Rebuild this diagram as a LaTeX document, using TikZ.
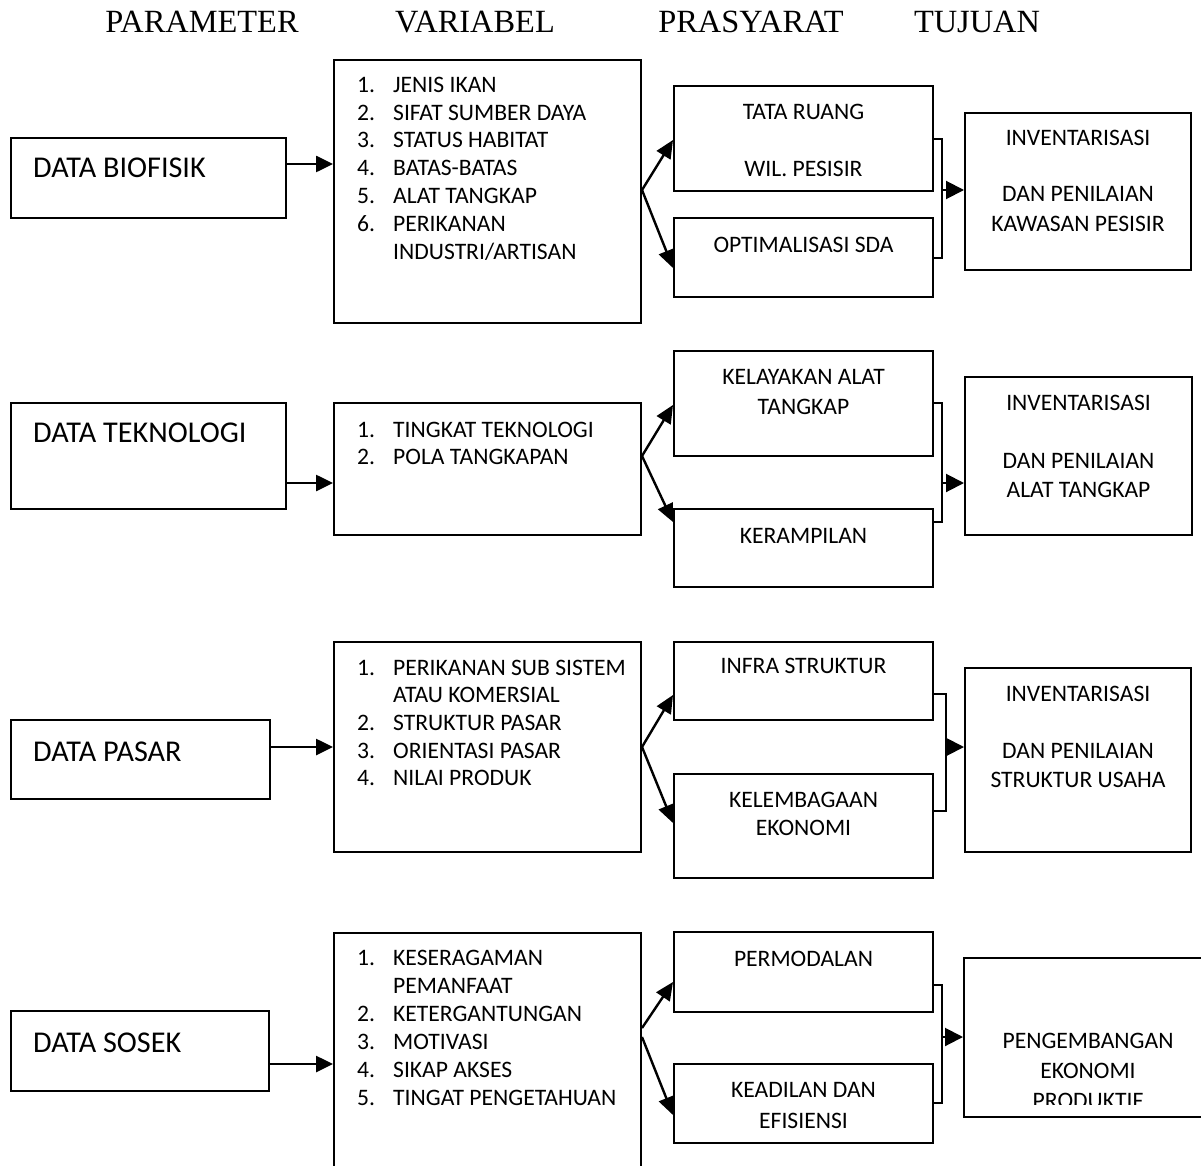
\documentclass[tikz,border=0pt]{standalone}
\usepackage{fontspec}
\setmainfont{Liberation Serif}
\newfontfamily\calfont{Carlito}
\usetikzlibrary{arrows.meta}
\newcommand\mkbox[5]{\node[bx,minimum width={#4-#2},minimum height={#5-#3}] (#1) at ({(#2+#4)/2},{(#3+#5)/2}) {};}
\newcommand\ct[4]{\node[tx,anchor=base] (#1) at (#2,#3) {#4};}
\newcommand\li[4]{\node[tx,anchor=base west] (#1) at (357,#2) {\makebox[36pt][l]{#3}#4};}
\begin{document}
\begin{tikzpicture}[x=1pt,y=-1pt,
  bx/.style={draw,line width=2pt,inner sep=0pt,rectangle},
  tx/.style={inner sep=0pt,font=\calfont\fontsize{23.6}{27}\selectfont},
  big/.style={inner sep=0pt,anchor=base west,font=\calfont\fontsize{30.2}{32}\selectfont},
  hd/.style={inner sep=0pt,anchor=base,font=\fontsize{32.4}{36}\selectfont},
  arr/.style={line width=2.6pt,-{Triangle[length=17pt,width=16pt]}},
  darr/.style={line width=2.4pt,-{Triangle[length=18pt,width=16pt]}},
  arrb/.style={line width=2pt,-{Triangle[length=18pt,width=18pt]}},
  brk/.style={line width=2pt,line join=miter}]
\clip (0,0) rectangle (1201,1166);
\fill[white] (0,0) rectangle (1201,1166);
% headers
\node[hd] (h1) at (202,33) {PARAMETER};
\node[hd] (h2) at (475,33) {VARIABEL};
\node[hd] (h3) at (751,33) {PRASYARAT};
\node[hd] (h4) at (977,33) {TUJUAN};
% ---------- row 1
\mkbox{dbio}{11}{138}{286}{218}
\node[big] (dbioT) at (33,178) {DATA BIOFISIK};
\mkbox{vbio}{334}{60}{641}{323}
\li{v1a}{93}{1.}{JENIS IKAN}
\li{v1b}{121}{2.}{SIFAT SUMBER DAYA}
\li{v1c}{148}{3.}{STATUS HABITAT}
\li{v1d}{176}{4.}{BATAS-BATAS}
\li{v1e}{204}{5.}{ALAT TANGKAP}
\li{v1f}{232}{6.}{PERIKANAN}
\li{v1g}{259}{}{INDUSTRI/ARTISAN}
\mkbox{pbioa}{674}{86}{933}{191}
\ct{p1a1}{803.5}{120}{TATA RUANG}
\ct{p1a2}{803.5}{177}{WIL. PESISIR}
\mkbox{pbiob}{674}{218}{933}{297}
\ct{p1b1}{803.5}{252}{OPTIMALISASI SDA}
\mkbox{tbio}{965}{113}{1191}{270}
\ct{t1a}{1078}{146}{INVENTARISASI}
\ct{t1b}{1078}{202}{DAN PENILAIAN}
\ct{t1c}{1078}{232}{KAWASAN PESISIR}
\coordinate (a1) at (0,164);
\coordinate (o1) at (641,190);
\coordinate (u1) at (0,140);
\coordinate (d1) at (0,268);
\coordinate (k1a) at (942,139);
\coordinate (k1b) at (942,258);
\coordinate (k1m) at (942,190);
\draw[arr] (dbio.east |- a1) -- (vbio.west |- a1);
\draw[darr] (vbio.east |- o1) -- (pbioa.west |- u1);
\draw[darr] (vbio.east |- o1) -- (pbiob.west |- d1);
\draw[brk] (pbioa.east |- k1a) -- (k1a) -- (k1b) -- (pbiob.east |- k1b);
\draw[arrb] (k1m) -- (tbio.west |- k1m);
% ---------- row 2
\mkbox{dtek}{11}{403}{286}{509}
\node[big] (dtekT) at (33,442) {DATA TEKNOLOGI};
\mkbox{vtek}{334}{403}{641}{535}
\li{v2a}{437}{1.}{TINGKAT TEKNOLOGI}
\li{v2b}{464}{2.}{POLA TANGKAPAN}
\mkbox{pteka}{674}{351}{933}{456}
\ct{p2a1}{803.5}{384}{KELAYAKAN ALAT}
\ct{p2a2}{803.5}{414}{TANGKAP}
\mkbox{ptekb}{674}{509}{933}{587}
\ct{p2b1}{803.5}{543}{KERAMPILAN}
\mkbox{ttek}{965}{377}{1192}{535}
\ct{t2a}{1078.5}{410}{INVENTARISASI}
\ct{t2b}{1078.5}{468}{DAN PENILAIAN}
\ct{t2c}{1078.5}{497}{ALAT TANGKAP}
\coordinate (a2) at (0,483);
\coordinate (o2) at (641,456);
\coordinate (u2) at (0,405);
\coordinate (d2) at (0,522);
\coordinate (k2a) at (942,403);
\coordinate (k2b) at (942,522);
\coordinate (k2m) at (942,483);
\draw[arr] (dtek.east |- a2) -- (vtek.west |- a2);
\draw[darr] (vtek.east |- o2) -- (pteka.west |- u2);
\draw[darr] (vtek.east |- o2) -- (ptekb.west |- d2);
\draw[brk] (pteka.east |- k2a) -- (k2a) -- (k2b) -- (ptekb.east |- k2b);
\draw[arrb] (k2m) -- (ttek.west |- k2m);
% ---------- row 3
\mkbox{dpas}{11}{720}{270}{799}
\node[big] (dpasT) at (33,761) {DATA PASAR};
\mkbox{vpas}{334}{642}{641}{852}
\li{v3a}{675}{1.}{PERIKANAN SUB SISTEM}
\li{v3b}{702}{}{ATAU KOMERSIAL}
\li{v3c}{730}{2.}{STRUKTUR PASAR}
\li{v3d}{758}{3.}{ORIENTASI PASAR}
\li{v3e}{785}{4.}{NILAI PRODUK}
\mkbox{ppasa}{674}{642}{933}{720}
\ct{p3a1}{803.5}{673}{INFRA STRUKTUR}
\mkbox{ppasb}{674}{774}{933}{878}
\ct{p3b1}{803.5}{807}{KELEMBAGAAN}
\ct{p3b2}{803.5}{835}{EKONOMI}
\mkbox{tpas}{965}{668}{1191}{852}
\ct{t3a}{1078}{701}{INVENTARISASI}
\ct{t3b}{1078}{758}{DAN PENILAIAN}
\ct{t3c}{1078}{787}{STRUKTUR USAHA}
\coordinate (a3) at (0,747);
\coordinate (o3) at (641,747);
\coordinate (u3) at (0,695);
\coordinate (d3) at (0,823);
\coordinate (k3a) at (946,694);
\coordinate (k3b) at (946,811);
\coordinate (k3m) at (946,747);
\draw[arr] (dpas.east |- a3) -- (vpas.west |- a3);
\draw[darr] (vpas.east |- o3) -- (ppasa.west |- u3);
\draw[darr] (vpas.east |- o3) -- (ppasb.west |- d3);
\draw[brk] (ppasa.east |- k3a) -- (k3a) -- (k3b) -- (ppasb.east |- k3b);
\draw[arrb] (k3m) -- (tpas.west |- k3m);
% ---------- row 4
\mkbox{dsos}{11}{1011}{269}{1091}
\node[big] (dsosT) at (33,1052) {DATA SOSEK};
\mkbox{vsos}{334}{933}{641}{1190}
\li{v4a}{965}{1.}{KESERAGAMAN}
\li{v4b}{993}{}{PEMANFAAT}
\li{v4c}{1021}{2.}{KETERGANTUNGAN}
\li{v4d}{1049}{3.}{MOTIVASI}
\li{v4e}{1077}{4.}{SIKAP AKSES}
\li{v4f}{1105}{5.}{TINGAT PENGETAHUAN}
\mkbox{psosa}{674}{932}{933}{1012}
\ct{p4a1}{803.5}{966}{PERMODALAN}
\mkbox{psosb}{674}{1064}{933}{1143}
\ct{p4b1}{803.5}{1097}{KEADILAN DAN}
\ct{p4b2}{803.5}{1128}{EFISIENSI}
\mkbox{tsos}{964}{958}{1212}{1117}
\ct{t4a}{1088}{1048}{PENGEMBANGAN}
\ct{t4b}{1088}{1078}{EKONOMI}
\begin{scope}
\clip (950,1000) rectangle (1201,1104);
\ct{t4c}{1088}{1108}{PRODUKTIF}
\end{scope}
\coordinate (a4) at (0,1064);
\coordinate (o4a) at (641,1028);
\coordinate (o4b) at (641,1037);
\coordinate (u4) at (0,982);
\coordinate (d4) at (0,1115);
\coordinate (k4a) at (942,985);
\coordinate (k4b) at (942,1103);
\coordinate (k4m) at (942,1037);
\draw[arr] (dsos.east |- a4) -- (vsos.west |- a4);
\draw[darr] (vsos.east |- o4a) -- (psosa.west |- u4);
\draw[darr] (vsos.east |- o4b) -- (psosb.west |- d4);
\draw[brk] (psosa.east |- k4a) -- (k4a) -- (k4b) -- (psosb.east |- k4b);
\draw[arrb] (k4m) -- (tsos.west |- k4m);
\end{tikzpicture}
\end{document}
